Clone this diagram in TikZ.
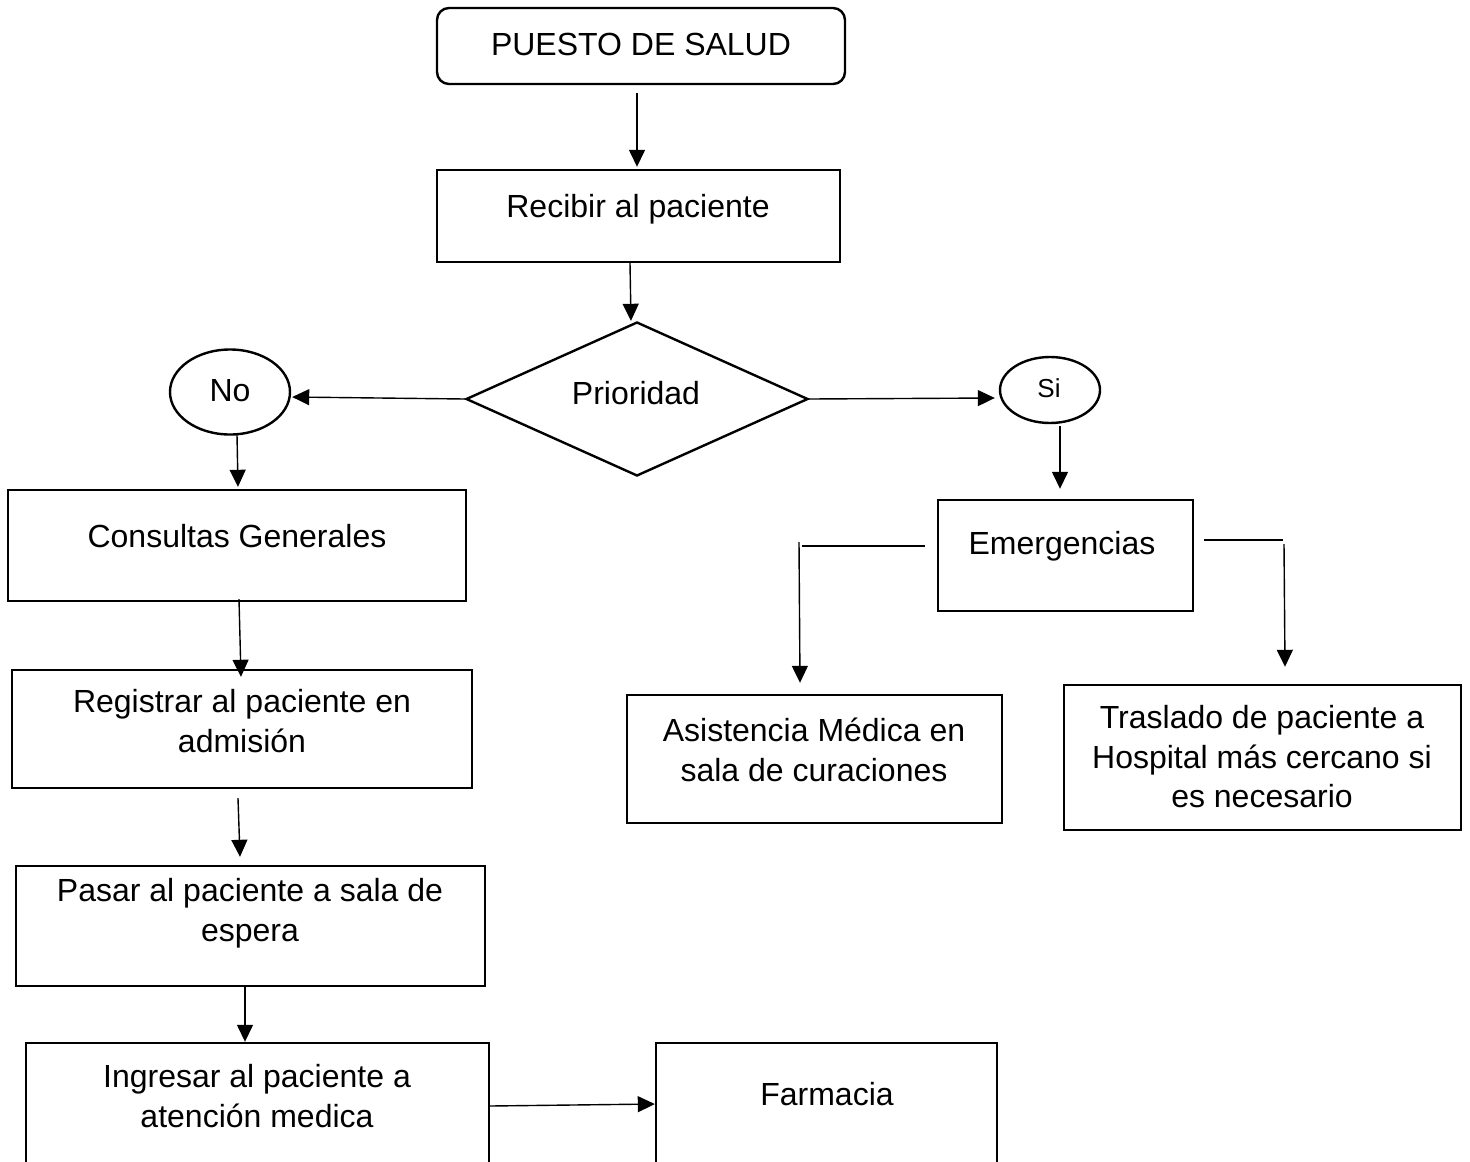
\documentclass[tikz,border=0pt]{standalone}
\usepackage{fontspec}
\setmainfont{Liberation Sans}
\usetikzlibrary{shapes.geometric,arrows.meta,calc}
\begin{document}
\begin{tikzpicture}[x=1pt,y=-1pt,
  every node/.style={font=\fontsize{32}{39.5}\selectfont, inner sep=0pt, align=center},
  box/.style={draw, line width=2.4pt, rectangle},
  arr/.style={line width=1.4pt, -{Triangle[length=17pt,width=16pt]}},
  ln/.style={line width=1.3pt}]
\useasboundingbox (0,0) rectangle (1470,1162);
\clip (0,0) rectangle (1470,1162);
\fill[white] (0,0) rectangle (1470,1162);

% shapes
\node[box, rounded corners=12pt, minimum width=408pt, minimum height=76pt] (puesto) at (641,46) {};
\node (tpuesto) at (641,44) {PUESTO DE SALUD};
\node[box, minimum width=403pt, minimum height=92pt] (recibir) at (638.5,216) {};
\node (trecibir) at (638,209) {Recibir al paciente};
\node[draw, line width=2.4pt, diamond, aspect=2.22, minimum width=342pt, minimum height=154pt] (prio) at (637,399) {};
\node (tprio) at (636,393) {Prioridad};
\node[draw, line width=2.4pt, ellipse, minimum width=120pt, minimum height=85pt] (no) at (230,392) {};
\node (tno) at (230,391) {No};
\node[draw, line width=2.4pt, ellipse, minimum width=100pt, minimum height=66pt] (si) at (1050,390) {};
\node[font=\fontsize{26}{30}\selectfont] (tsi) at (1049,388) {Si};
\node[box, minimum width=458pt, minimum height=111pt] (consultas) at (237,545.5) {};
\node (tconsultas) at (237,536) {Consultas Generales};
\node[box, minimum width=460pt, minimum height=118pt] (registrar) at (242,729) {};
\node (tregistrar) at (242,721) {Registrar al paciente en\\admisión};
\node[box, minimum width=469pt, minimum height=120pt] (pasar) at (250.5,926) {};
\node (tpasar) at (250,913) {Pasar al paciente a sala de\\espera};
\node[box, minimum width=463pt, minimum height=160pt] (ingresar) at (257.5,1123) {};
\node (tingresar) at (257,1096) {Ingresar al paciente a\\atención medica};
\node[box, minimum width=341pt, minimum height=160pt] (farmacia) at (826.5,1123) {};
\node (tfarmacia) at (827,1094) {Farmacia};
\node[box, minimum width=255pt, minimum height=111pt] (emerg) at (1065.5,555.5) {};
\node (temerg) at (1062,546) {Emergencias};
\node[box, minimum width=375pt, minimum height=128pt] (asist) at (814.5,759) {};
\node (tasist) at (814,750) {Asistencia Médica en\\sala de curaciones};
\node[box, minimum width=397pt, minimum height=145pt] (trasl) at (1262.5,757.5) {};
\node (ttrasl) at (1262,757) {Traslado de paciente a\\Hospital más cercano si\\es necesario};

% connectors
\draw[arr] ($(puesto.south)+(-4,8)$) -- ($(recibir.north)+(-1.5,-2)$);
\draw[arr] ($(recibir.south)+(-8.5,0)$) -- ($(prio.north)+(-6,0)$);
\draw[arr] (prio.west) -- ($(no.east)+(1,5)$);
\draw[arr] (prio.east) -- ($(si.west)+(-4,8)$);
\draw[arr] ($(no.south)+(7,-1)$) -- ($(consultas.north)+(1,-2)$);
\draw[arr] ($(si.south)+(10,2)$) -- ($(emerg.north)+(-5.5,-10)$);

\coordinate (lcorner) at (799,542);
\coordinate (rcorner) at (1284,544);
\draw[ln] ($(emerg.west)+(-12,-9.5)$) -- (802,546);
\draw[arr] (lcorner) -- ($(asist.north)+(-14.5,-11)$);
\draw[ln] ($(emerg.east)+(10,-15.5)$) -- (1282.5,540);
\draw[arr] (rcorner) -- ($(trasl.north)+(22.5,-17)$);

\draw[arr] ($(consultas.south)+(2,-3)$) -- ($(registrar.north)+(-1,8)$);
\draw[arr] ($(registrar.south)+(-4,9)$) -- ($(pasar.north)+(-10.5,-8)$);
\draw[arr] ($(pasar.south)+(-5.5,0)$) -- ($(ingresar.north)+(-12.5,0)$);
\draw[arr] ($(ingresar.east)+(0,-17)$) -- ($(farmacia.west)+(0,-19)$);
\end{tikzpicture}
\end{document}
